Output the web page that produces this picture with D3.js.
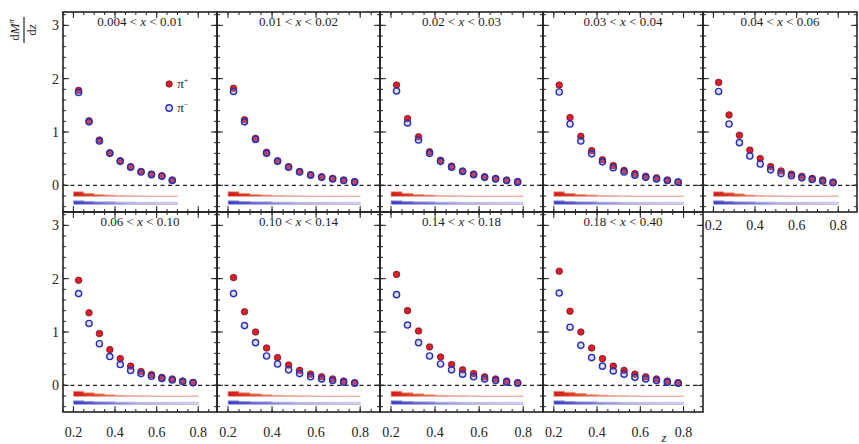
<!DOCTYPE html>
<html>
<head>
<meta charset="utf-8">
<script src="https://cdn.jsdelivr.net/npm/d3@7"></script>
<style>
  body { margin: 0; background: #fff; }
  text { font-family: "Liberation Serif", "DejaVu Serif", serif; fill: #222; }
</style>
</head>
<body>
<svg id="chart" width="859" height="444"></svg>
<script>
// x bin edges shown in panel titles
const xLow  = ["0.004", "0.01", "0.02", "0.03", "0.04", "0.06", "0.10", "0.14", "0.18"];
const xHigh = ["0.01", "0.02", "0.03", "0.04", "0.06", "0.10", "0.14", "0.18", "0.40"];

// z bin centres and edges
const zCenters = [0.225, 0.275, 0.325, 0.375, 0.425, 0.475, 0.525, 0.575, 0.625, 0.675, 0.725, 0.775];
const zEdges   = [0.2, 0.25, 0.3, 0.35, 0.4, 0.45, 0.5, 0.55, 0.6, 0.65, 0.7, 0.75, 0.8];

// dM/dz for pi+ , one list per x bin
const piPlus = [
  [1.78, 1.21, 0.85, 0.61, 0.46, 0.35, 0.26, 0.21, 0.18, 0.10],
  [1.82, 1.23, 0.88, 0.62, 0.46, 0.35, 0.26, 0.20, 0.16, 0.13, 0.10, 0.07],
  [1.88, 1.25, 0.91, 0.63, 0.47, 0.36, 0.27, 0.21, 0.16, 0.13, 0.10, 0.07],
  [1.88, 1.27, 0.92, 0.65, 0.48, 0.37, 0.28, 0.22, 0.17, 0.14, 0.10, 0.06],
  [1.93, 1.32, 0.94, 0.66, 0.50, 0.35, 0.27, 0.21, 0.17, 0.13, 0.10, 0.06],
  [1.97, 1.36, 0.97, 0.67, 0.50, 0.36, 0.26, 0.20, 0.15, 0.12, 0.08, 0.05],
  [2.02, 1.38, 1.00, 0.70, 0.52, 0.38, 0.28, 0.21, 0.16, 0.12, 0.08, 0.05],
  [2.08, 1.40, 1.02, 0.72, 0.53, 0.39, 0.29, 0.22, 0.16, 0.12, 0.08, 0.05],
  [2.14, 1.39, 1.00, 0.70, 0.50, 0.36, 0.28, 0.21, 0.16, 0.12, 0.08, 0.05]
];

// dM/dz for pi-
const piMinus = [
  [1.74, 1.19, 0.83, 0.60, 0.45, 0.34, 0.25, 0.20, 0.17, 0.09],
  [1.76, 1.19, 0.86, 0.60, 0.45, 0.34, 0.25, 0.19, 0.15, 0.12, 0.09, 0.06],
  [1.77, 1.17, 0.85, 0.60, 0.45, 0.34, 0.26, 0.20, 0.15, 0.12, 0.09, 0.06],
  [1.75, 1.15, 0.83, 0.59, 0.44, 0.33, 0.25, 0.19, 0.15, 0.12, 0.09, 0.06],
  [1.76, 1.15, 0.80, 0.55, 0.40, 0.29, 0.22, 0.18, 0.14, 0.11, 0.08, 0.05],
  [1.72, 1.16, 0.78, 0.54, 0.39, 0.28, 0.22, 0.17, 0.13, 0.10, 0.07, 0.05],
  [1.72, 1.12, 0.80, 0.55, 0.40, 0.29, 0.22, 0.16, 0.12, 0.09, 0.06, 0.04],
  [1.70, 1.13, 0.80, 0.55, 0.40, 0.29, 0.21, 0.16, 0.12, 0.09, 0.06, 0.04],
  [1.73, 1.09, 0.75, 0.52, 0.36, 0.27, 0.21, 0.15, 0.12, 0.09, 0.06, 0.04]
];

// systematic bands (height above their baselines)
const sysPlus = [
  [0.09, 0.06, 0.04, 0.03, 0.02, 0.015, 0.012, 0.01, 0.01, 0.01],
  [0.09, 0.06, 0.04, 0.03, 0.02, 0.015, 0.012, 0.01, 0.01, 0.01, 0.01, 0.01],
  [0.09, 0.06, 0.04, 0.03, 0.02, 0.015, 0.012, 0.01, 0.01, 0.01, 0.01, 0.01],
  [0.09, 0.06, 0.04, 0.03, 0.02, 0.015, 0.012, 0.01, 0.01, 0.01, 0.01, 0.01],
  [0.09, 0.07, 0.05, 0.03, 0.02, 0.015, 0.012, 0.01, 0.01, 0.01, 0.01, 0.01],
  [0.10, 0.07, 0.05, 0.035, 0.025, 0.02, 0.015, 0.012, 0.01, 0.01, 0.01, 0.01],
  [0.10, 0.07, 0.05, 0.035, 0.025, 0.02, 0.015, 0.012, 0.01, 0.01, 0.01, 0.01],
  [0.10, 0.07, 0.05, 0.035, 0.025, 0.02, 0.015, 0.012, 0.01, 0.01, 0.01, 0.01],
  [0.10, 0.08, 0.06, 0.04, 0.03, 0.02, 0.015, 0.012, 0.01, 0.01, 0.01, 0.01]
];
const sysMinus = [
  [0.07, 0.06, 0.05, 0.05, 0.045, 0.045, 0.04, 0.04, 0.04, 0.04],
  [0.07, 0.06, 0.05, 0.05, 0.045, 0.045, 0.04, 0.04, 0.04, 0.04, 0.04, 0.04],
  [0.07, 0.06, 0.05, 0.05, 0.045, 0.045, 0.04, 0.04, 0.04, 0.04, 0.04, 0.04],
  [0.07, 0.06, 0.05, 0.05, 0.045, 0.045, 0.04, 0.04, 0.04, 0.04, 0.04, 0.04],
  [0.07, 0.06, 0.05, 0.05, 0.045, 0.045, 0.04, 0.04, 0.04, 0.04, 0.04, 0.04],
  [0.07, 0.06, 0.05, 0.05, 0.045, 0.045, 0.04, 0.04, 0.04, 0.04, 0.04, 0.04],
  [0.07, 0.06, 0.05, 0.05, 0.045, 0.045, 0.04, 0.04, 0.04, 0.04, 0.04, 0.04],
  [0.07, 0.06, 0.05, 0.05, 0.045, 0.045, 0.04, 0.04, 0.04, 0.04, 0.04, 0.04],
  [0.07, 0.06, 0.05, 0.05, 0.045, 0.045, 0.04, 0.04, 0.04, 0.04, 0.04, 0.04]
];
const sysPlusBase = -0.21;
const sysMinusBase = -0.36;

const xTickLabels = ["0.2", "0.4", "0.6", "0.8"];
const yTickLabels = ["0", "1", "2", "3"];

// layout
const colEdges = [63, 217, 380, 543, 703, 857];
const rowEdges = [12, 212, 412];
const red = "#d8202a", blue = "#2830b4";

const svg = d3.select("#chart");
const defs = svg.append("defs");

function gradient(id, stops) {
  const g = defs.append("linearGradient").attr("id", id)
    .attr("x1", "0%").attr("x2", "100%").attr("y1", "0%").attr("y2", "0%");
  stops.forEach(s => g.append("stop").attr("offset", s[0]).attr("stop-color", s[1]));
}
gradient("gradRed", [["0%", "#d01818"], ["20%", "#e0502c"], ["50%", "#e8b49a"], ["100%", "#efdcd4"]]);
gradient("gradBlue", [["0%", "#3a3ac4"], ["25%", "#6c6cd0"], ["55%", "#b4b4e2"], ["100%", "#dcdcf0"]]);

piPlus.forEach((plus, p) => {
  const row = Math.floor(p / 5), col = p % 5;
  const x = d3.scaleLinear().domain([0.15, 0.89]).range([colEdges[col], colEdges[col + 1]]);
  const y = d3.scaleLinear().domain([-0.5, 3.25]).range([rowEdges[row + 1], rowEdges[row]]);
  const g = svg.append("g");
  const n = plus.length;

  // systematic bands
  [[sysPlus[p], sysPlusBase, "url(#gradRed)", "#e9a99a"],
   [sysMinus[p], sysMinusBase, "url(#gradBlue)", "#b0b0dc"]].forEach(([sys, base, fill, line]) => {
    const pts = [];
    sys.forEach((s, i) => { pts.push([zEdges[i], s]); pts.push([zEdges[i + 1], s]); });
    const area = d3.area().x(d => x(d[0])).y0(y(base)).y1(d => y(base + d[1]));
    g.append("path").datum(pts).attr("d", area).attr("fill", fill).attr("stroke", line).attr("stroke-width", 0.8);
  });

  // zero line
  g.append("line").attr("x1", x.range()[0]).attr("x2", x.range()[1])
    .attr("y1", y(0)).attr("y2", y(0))
    .attr("stroke", "#222").attr("stroke-width", 1.3).attr("stroke-dasharray", "4,3.5");

  // points
  const zs = zCenters.slice(0, n);
  g.selectAll(".plus").data(plus).join("circle")
    .attr("cx", (d, i) => x(zs[i])).attr("cy", d => y(d)).attr("r", 3.3)
    .attr("fill", red).attr("stroke", "#6a1020").attr("stroke-width", 0.7);
  g.selectAll(".minus").data(piMinus[p]).join("circle")
    .attr("cx", (d, i) => x(zs[i])).attr("cy", d => y(d)).attr("r", 3.1)
    .attr("fill", "rgba(150,150,210,0.3)").attr("stroke", blue).attr("stroke-width", 1.4);

  // ticks
  const xMinor = d3.range(0.15, 0.8901, 0.05);
  const xMajor = [0.2, 0.4, 0.6, 0.8];
  const yMinor = d3.range(-0.4, 3.2501, 0.2);
  const yMajor = [0, 1, 2, 3];
  const [x0, x1] = x.range(), [yb, yt] = y.range();
  const tick = (x1_, y1_, x2_, y2_) => g.append("line")
    .attr("x1", x1_).attr("y1", y1_).attr("x2", x2_).attr("y2", y2_)
    .attr("stroke", "#222").attr("stroke-width", 1);
  xMinor.forEach(v => { tick(x(v), yb, x(v), yb - 3); tick(x(v), yt, x(v), yt + 3); });
  xMajor.forEach(v => { tick(x(v), yb, x(v), yb - 6); tick(x(v), yt, x(v), yt + 6); });
  yMinor.forEach(v => { tick(x0, y(v), x0 + 3, y(v)); tick(x1, y(v), x1 - 3, y(v)); });
  yMajor.forEach(v => { tick(x0, y(v), x0 + 6, y(v)); tick(x1, y(v), x1 - 6, y(v)); });

  // frame
  g.append("rect").attr("x", x0).attr("y", yt).attr("width", x1 - x0).attr("height", yb - yt)
    .attr("fill", "none").attr("stroke", "#222").attr("stroke-width", 1.6);

  // title
  const t = g.append("text").attr("x", (x0 + x1) / 2).attr("y", yt + 14)
    .attr("text-anchor", "middle").style("font-size", "13px");
  t.append("tspan").text(xLow[p] + " < ");
  t.append("tspan").style("font-style", "italic").text("x");
  t.append("tspan").text(" < " + xHigh[p]);

  // x tick labels on panels with nothing below
  if (row === 1 || p === 4) {
    g.selectAll(".xl").data(xTickLabels).join("text")
      .attr("x", d => x(+d)).attr("y", yb + (row === 1 ? 25 : 18))
      .attr("text-anchor", "middle").style("font-size", "14px").text(d => d);
  }
  // y tick labels on first column
  if (col === 0) {
    g.selectAll(".yl").data(yTickLabels).join("text")
      .attr("x", x0 - 4).attr("y", d => y(+d) + 5)
      .attr("text-anchor", "end").style("font-size", "14px").text(d => d);
  }

  // legend
  if (p === 0) {
    const lx = x(0.66);
    const items = [["+", red, "#6a1020", 0.7], ["\u2212", "rgba(150,150,210,0.3)", blue, 1.4]];
    items.forEach((it, k) => {
      const ly = y(1.9) + k * 24;
      g.append("circle").attr("cx", lx).attr("cy", ly).attr("r", 3.2)
        .attr("fill", it[1]).attr("stroke", it[2]).attr("stroke-width", it[3]);
      const lt = g.append("text").attr("x", lx + 8).attr("y", ly + 4).style("font-size", "13px");
      lt.append("tspan").text("\u03c0");
      lt.append("tspan").attr("dy", -5).style("font-size", "8px").text(it[0]);
    });
  }
});

// y axis title: dM^pi / dz, rotated
const yTitle = svg.append("g").attr("transform", "translate(24,30) rotate(-90)");
const num = yTitle.append("text").attr("x", 0).attr("y", -5).attr("text-anchor", "middle")
  .style("font-size", "13px");
num.append("tspan").text("d");
num.append("tspan").style("font-style", "italic").text("M");
num.append("tspan").attr("dy", -5).style("font-size", "8px").style("font-style", "italic").text("\u03c0");
yTitle.append("line").attr("x1", -13).attr("x2", 13).attr("y1", 0).attr("y2", 0)
  .attr("stroke", "#222").attr("stroke-width", 1.2);
const den = yTitle.append("text").attr("x", 0).attr("y", 12).attr("text-anchor", "middle")
  .style("font-size", "13px");
den.append("tspan").text("d");
den.append("tspan").style("font-style", "italic").text("z");

// x axis title at the bottom edge
svg.append("text").attr("x", 664).attr("y", 442).attr("text-anchor", "middle")
  .style("font-size", "13px").style("font-style", "italic").text("z");
</script>
</body>
</html>
